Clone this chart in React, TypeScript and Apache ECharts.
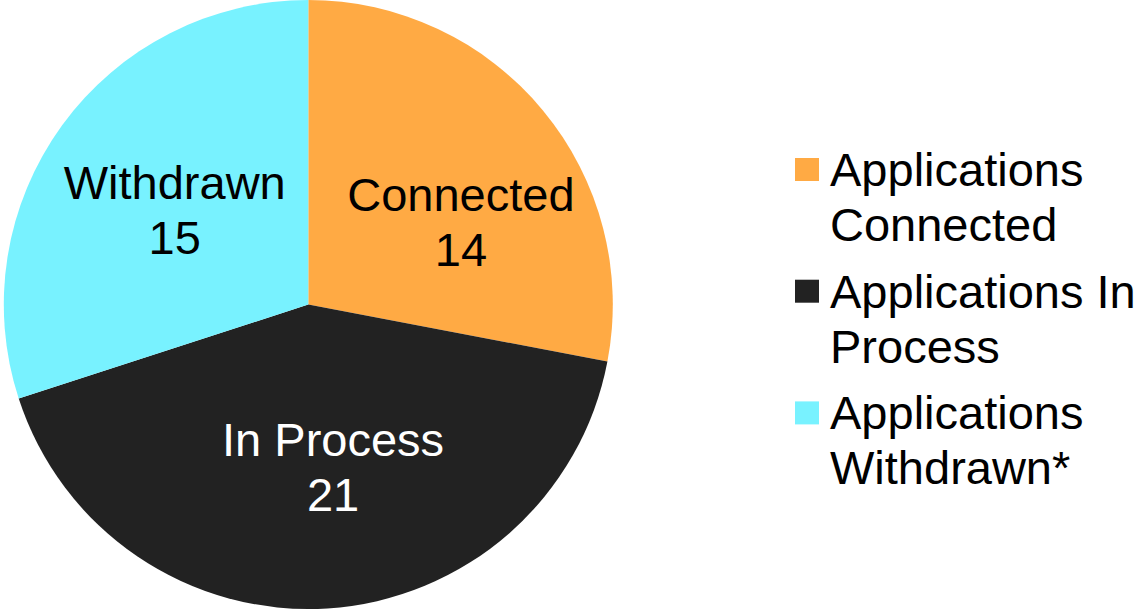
import React, { useEffect, useRef } from "react";
import * as echarts from "echarts";

const categories = ["Applications Connected", "Applications In Process", "Applications Withdrawn*"];
const legendLabels = ["Applications\nConnected", "Applications In\nProcess", "Applications\nWithdrawn*"];
const sliceLabels = ["Connected", "In Process", "Withdrawn"];
const values = [14, 21, 15];
const colors = ["#FFAA44", "#222222", "#78F2FF"];
const labelColors = ["#000000", "#FFFFFF", "#000000"];
const labelOffsets = [
  [33, 16],
  [15, 8],
  [-8, -3],
];

const FONT = "'Liberation Sans', Arial, Helvetica, sans-serif";

export default function App() {
  const ref = useRef<HTMLDivElement>(null);

  useEffect(() => {
    if (!ref.current) return;
    const chart = echarts.init(ref.current, undefined, { renderer: "svg" });
    const data = categories.map((name, i) => ({
      name,
      value: values[i],
      itemStyle: { color: colors[i] },
      label: { color: labelColors[i], offset: labelOffsets[i] },
    }));
    chart.setOption({
      animation: false,
      backgroundColor: "#FFFFFF",
      legend: {
        orient: "vertical",
        left: 795,
        top: 87,
        padding: 0,
        itemGap: -43.3,
        itemWidth: 24,
        itemHeight: 23,
        icon: "rect",
        selectedMode: false,
        data: categories,
        formatter: (name: string) => "\n" + legendLabels[categories.indexOf(name)],
        textStyle: {
          fontFamily: FONT,
          fontSize: 47,
          lineHeight: 55,
          color: "#000000",
          padding: [0, 0, 0, 6],
        },
      },
      series: [
        {
          type: "pie",
          center: [308.3, 304.5],
          radius: 304.5,
          startAngle: 90,
          clockwise: true,
          silent: true,
          label: {
            show: true,
            position: "inside",
            fontFamily: FONT,
            fontSize: 47,
            lineHeight: 55,
            formatter: (p: any) => `${sliceLabels[p.dataIndex]}\n${values[p.dataIndex]}`,
          },
          labelLine: { show: false },
          itemStyle: { borderWidth: 0 },
          emphasis: { disabled: true },
          data,
        },
      ],
    });
    return () => chart.dispose();
  }, []);

  return (
    <div
      ref={ref}
      style={{ position: "fixed", left: 0, top: 0, width: 1142, height: 610, background: "#fff" }}
    />
  );
}
